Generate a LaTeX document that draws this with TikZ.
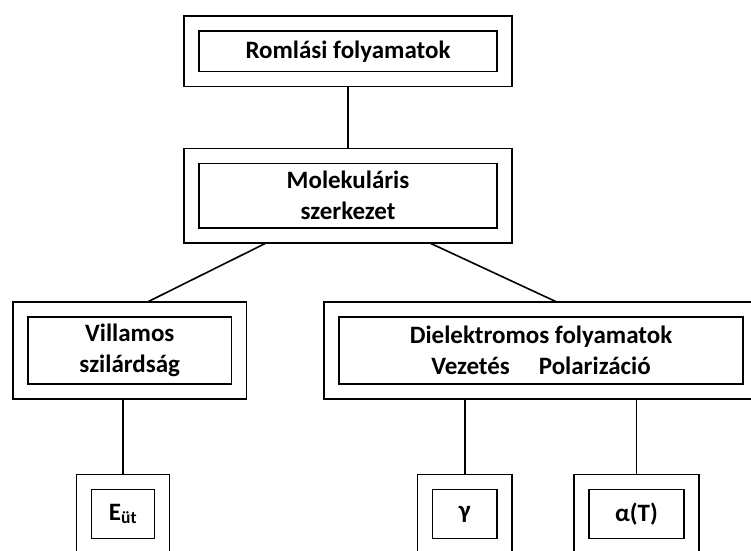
\documentclass[tikz,border=0pt]{standalone}
\usepackage{fontspec}
\setmainfont{Carlito}
\usetikzlibrary{positioning}
\usetikzlibrary{calc}

\begin{document}
\begin{tikzpicture}[x=1pt,y=-1pt,
    dupla/.style={draw, line width=1.6pt, double=white, double distance=13.4pt,
        outer sep=7.5pt, inner sep=0pt, align=center,
        font=\bfseries\fontsize{25}{31}\selectfont},
    ag/.style={line width=1.6pt}]
        \useasboundingbox (0,0) rectangle (751,550);
        \clip (0,0) rectangle (751,550);

        % Define the boxes
        \node[dupla, minimum width=312.5pt, minimum height=55.5pt] (romlas) at (348,51.25) {Romlási folyamatok};
        \node[dupla, minimum width=312.5pt, minimum height=79.5pt] (molekula) at (348,195.75) {Molekuláris\\szerkezet};
        \node[dupla, minimum width=218.5pt, minimum height=82pt] (villamos) at (129.75,350.5) {Villamos\\szilárdság};
        \node[dupla, minimum width=419pt, minimum height=82pt] (dielektr) at (541,350.5) {Dielektromos folyamatok\\Vezetés\hspace{29pt}Polarizáció};

        \node[dupla, minimum width=78pt, minimum height=64pt] (eut) at (123,514) {E\textsubscript{üt}};
        \node[dupla, minimum width=79.5pt, minimum height=64pt] (gamma) at (464.75,514) {γ};
        \node[dupla, minimum width=110pt, minimum height=64pt] (alfa) at (636.5,514) {α(T)};

        % Draw the lines
        \draw[ag] (romlas) -- (molekula);
        \draw[ag] (molekula.210) -- (villamos.70);
        \draw[ag] (molekula.330) -- (dielektr.72);
        \draw[ag] (eut.north |- villamos.south) -- (eut.north);
        \draw[ag] (gamma.north |- dielektr.south) -- (gamma.north);
        \draw[ag] (alfa.north |- dielektr.south) -- (alfa.north);
     \end{tikzpicture}
\end{document}
